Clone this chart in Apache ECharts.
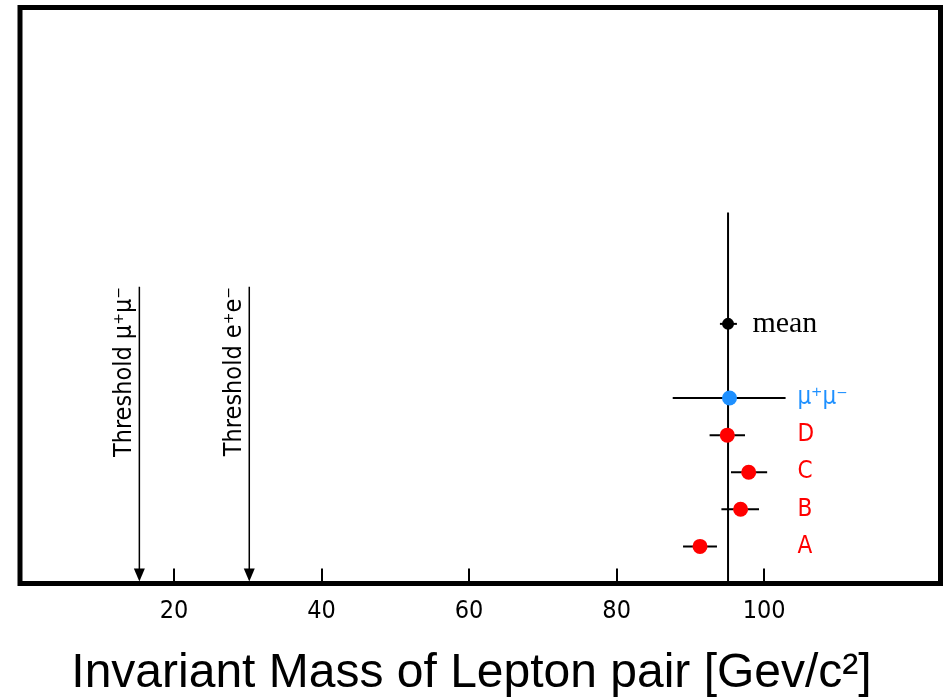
<!DOCTYPE html>
<html>
<head>
<meta charset="utf-8">
<script src="https://cdn.jsdelivr.net/npm/echarts@6/dist/echarts.min.js"></script>
<style>
  html, body { margin: 0; padding: 0; background: #fff; }
  #chart { width: 943px; height: 698px; }
</style>
</head>
<body>
<div id="chart"></div>
<script>
/* data */
var xTicks = [20, 40, 60, 80, 100];
var names = ['A', 'B', 'C', 'D', 'μ⁺μ⁻', 'mean'];
var rows = [1, 2, 3, 4, 5, 7];
var masses = [91.3, 96.8, 97.9, 95.0, 95.3, 95.1];
var errLow = [89.0, 94.2, 95.5, 92.6, 87.6, 94.0];
var errHigh = [93.6, 99.3, 100.4, 97.4, 102.9, 96.3];
var meanLineTop = 10;
var thresholds = [15.3, 30.2];
var thresholdTop = 8;
var thresholdNames = ['Threshold μ⁺μ⁻', 'Threshold e⁺e⁻'];

var narrow = '"Liberation Sans Narrow", "DejaVu Sans Condensed", "Roboto Condensed", "Liberation Sans", sans-serif';
var colors = ['#ff0000', '#ff0000', '#ff0000', '#ff0000', '#1e90ff', '#000000'];
var labelX = 104.5;
var meanLabelX = 98.4;

/* 组装数据 */
var pointData = [];
var barData = [];
var labelData = [];
for (var i = 0; i < names.length; i++) {
  var isMean = names[i] == 'mean';
  pointData.push({
    value: [masses[i], rows[i]],
    symbolSize: isMean ? 12 : 15,
    itemStyle: { color: colors[i], opacity: 1 }
  });
  barData.push([errLow[i], errHigh[i], rows[i]]);
  labelData.push({
    value: [isMean ? meanLabelX : labelX, rows[i]],
    name: names[i],
    label: {
      color: colors[i],
      fontFamily: isMean ? '"Liberation Serif", serif' : narrow,
      fontSize: isMean ? 30 : 24
    }
  });
}
var thresholdData = [];
for (var i = 0; i < thresholds.length; i++) {
  thresholdData.push([thresholds[i], thresholdTop]);
}

var chart = echarts.init(document.getElementById('chart'));
var options = {
  animation: false,
  title: {
    text: 'Invariant Mass of Lepton pair [Gev/c²]',
    left: 'center',
    top: 645,
    textStyle: { fontFamily: '"Liberation Sans", Arial, sans-serif', fontSize: 48, fontWeight: 'normal', color: '#000' }
  },
  grid: {
    left: 20, top: 7.5, right: 2.5, bottom: 114.5,
    show: true, borderColor: '#000', borderWidth: 5, backgroundColor: '#fff'
  },
  xAxis: {
    type: 'value',
    min: -0.88,
    max: 123.9,
    axisLine: { show: false },
    splitLine: { show: false },
    axisTick: {
      show: true, inside: true, length: 15, customValues: xTicks,
      lineStyle: { color: '#000', width: 2 }
    },
    axisLabel: {
      customValues: xTicks, margin: 15,
      fontFamily: narrow, fontSize: 25, color: '#000'
    }
  },
  yAxis: {
    type: 'value', min: 0, max: 15.53, show: false
  },
  series: [
    {
      type: 'line',
      data: [[masses[5], 0], [masses[5], meanLineTop]],
      symbol: 'none',
      lineStyle: { color: '#000', width: 2 },
      z: 1
    },
    {
      type: 'custom',
      data: thresholdData,
      renderItem: function (params, api) {
        var top = api.coord([api.value(0), api.value(1)]);
        var bot = api.coord([api.value(0), 0]);
        var bx = bot[0], by = bot[1] - 2;
        return {
          type: 'group',
          children: [
            { type: 'line', shape: { x1: top[0], y1: top[1], x2: bx, y2: by - 10 },
              style: { stroke: '#000', lineWidth: 1.5 } },
            { type: 'polygon', shape: { points: [[bx - 5.5, by - 13], [bx + 5.5, by - 13], [bx, by]] },
              style: { fill: '#000' } },
            { type: 'text', x: top[0] - 2, y: top[1], rotation: Math.PI / 2,
              style: { text: thresholdNames[params.dataIndex], align: 'right', verticalAlign: 'bottom',
                font: '25px ' + narrow, fill: '#000' } }
          ]
        };
      },
      z: 2
    },
    {
      type: 'custom',
      data: barData,
      renderItem: function (params, api) {
        var a = api.coord([api.value(0), api.value(2)]);
        var b = api.coord([api.value(1), api.value(2)]);
        return {
          type: 'line',
          shape: { x1: a[0], y1: a[1], x2: b[0], y2: b[1] },
          style: { stroke: '#000', lineWidth: 2 }
        };
      },
      z: 3
    },
    {
      type: 'scatter',
      data: pointData,
      symbol: 'circle',
      z: 4
    },
    {
      type: 'scatter',
      data: labelData,
      symbolSize: 0,
      itemStyle: { opacity: 1 },
      label: {
        show: true,
        position: 'right',
        distance: 0,
        opacity: 1,
        formatter: function (p) { return p.name; }
      },
      z: 5
    }
  ]
};
chart.setOption(options);
</script>
</body>
</html>
